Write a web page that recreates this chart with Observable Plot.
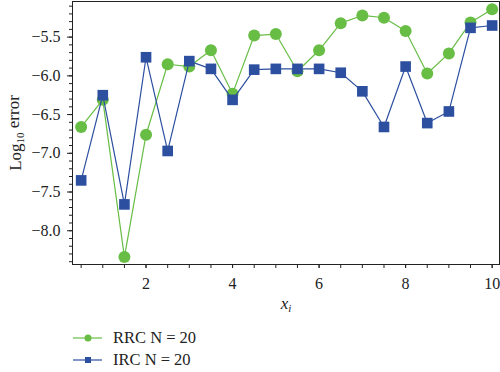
<!DOCTYPE html>
<html><head><meta charset="utf-8">
<script src="https://cdn.jsdelivr.net/npm/d3@7"></script>
<script src="https://cdn.jsdelivr.net/npm/@observablehq/plot@0.6"></script>
<style>
body{margin:0;background:#fff;font-family:"Liberation Serif",serif;color:#222;}
#legend{height:54px;padding-top:9px;box-sizing:border-box;}
.row{display:flex;align-items:center;height:22px;font-size:16.5px;}
.row svg{margin-left:73px;display:block;}
svg text{font-family:"Liberation Serif",serif;}
</style></head><body>
<div id="chart"></div>
<div id="legend"></div>
<script>
const xValues = [0.5,1,1.5,2,2.5,3,3.5,4,4.5,5,5.5,6,6.5,7,7.5,8,8.5,9,9.5,10];
const rrc = [-6.66,-6.31,-8.34,-6.76,-5.85,-5.88,-5.67,-6.23,-5.48,-5.46,-5.94,-5.67,-5.32,-5.22,-5.25,-5.42,-5.97,-5.71,-5.31,-5.14];
const irc = [-7.35,-6.25,-7.66,-5.76,-6.97,-5.81,-5.91,-6.31,-5.92,-5.91,-5.91,-5.91,-5.96,-6.20,-6.66,-5.88,-6.61,-6.46,-5.38,-5.35];
const seriesNames = ["RRC N = 20","IRC N = 20"];
const colors = ["#68bd45","#2d4fa0"];
const yTickValues = [-8,-7.5,-7,-6.5,-6,-5.5];
const yMinorTicks = [-8.4,-8.3,-8.2,-8.1,-8,-7.9,-7.8,-7.7,-7.6,-7.5,-7.4,-7.3,-7.2,-7.1,-7,-6.9,-6.8,-6.7,-6.6,-6.5,-6.4,-6.3,-6.2,-6.1,-6,-5.9,-5.8,-5.7,-5.6,-5.5,-5.4,-5.3,-5.2,-5.1];
const xTickValues = [2,4,6,8,10];
const xMinorTicks = xValues;

const rrcData = xValues.map((x,i)=>({x, y: rrc[i]}));
const ircData = xValues.map((x,i)=>({x, y: irc[i]}));
const serif = '"Liberation Serif", serif';

const chart = Plot.plot({
  width: 500, height: 318,
  marginLeft: 72, marginRight: 1, marginTop: 1, marginBottom: 54,
  style: {fontFamily: serif, fontSize: "16px", color: "#222", background: "white", overflow: "visible"},
  x: {domain: [0.3, 10.17]},
  y: {domain: [-8.436, -5.04]},
  marks: [
    Plot.frame({stroke: "#222"}),
    Plot.axisY(yMinorTicks, {tickSize: 3, tickFormat: () => "", label: null}),
    Plot.axisY(yTickValues, {tickSize: 5, tickPadding: 7, tickFormat: d3.format(".1f"), fontFamily: serif, fontSize: 16, fontVariant: "normal", label: "Log10 error", labelAnchor: "center", labelOffset: 64, labelArrow: "none"}),
    Plot.axisX(xMinorTicks, {tickSize: 4, tickFormat: () => "", label: null}),
    Plot.axisX(xTickValues, {tickSize: 4, tickPadding: 9, tickFormat: d => String(d), fontFamily: serif, fontSize: 16, fontVariant: "normal", label: "x_i", labelAnchor: "center", labelOffset: 44, labelArrow: "none"}),
    Plot.line(rrcData, {x: "x", y: "y", stroke: colors[0], strokeWidth: 1.2}),
    Plot.dot(rrcData, {x: "x", y: "y", r: 6, fill: colors[0], symbol: "circle"}),
    Plot.line(ircData, {x: "x", y: "y", stroke: colors[1], strokeWidth: 1.2}),
    Plot.dot(ircData, {x: "x", y: "y", r: 6, fill: colors[1], symbol: "square"})
  ]
});
document.getElementById("chart").appendChild(chart);

// subscripts in axis labels
d3.select(chart).selectAll("text").each(function(){
  const t = this.textContent;
  if (t === "Log10 error") {
    this.textContent = "";
    this.setAttribute("font-size", "17");
    const s = d3.select(this);
    s.append("tspan").text("Log");
    s.append("tspan").attr("dy", "0.3em").attr("font-size", "11").text("10");
    s.append("tspan").attr("dy", "-0.3em").text(" error");
  } else if (t === "x_i") {
    this.textContent = "";
    this.setAttribute("font-size", "17");
    const s = d3.select(this);
    s.append("tspan").attr("font-style", "italic").text("x");
    s.append("tspan").attr("dy", "0.35em").attr("font-size", "11").attr("font-style", "italic").text("i");
  }
});

// legend
const legend = d3.select("#legend");
seriesNames.forEach((name, i) => {
  const row = legend.append("div").attr("class", "row");
  const svg = row.append("svg").attr("width", 40).attr("height", 22);
  svg.append("line").attr("x1", 0).attr("x2", 29).attr("y1", 11).attr("y2", 11).attr("stroke", colors[i]).attr("stroke-width", 1.2);
  if (i === 0) svg.append("circle").attr("cx", 15).attr("cy", 11).attr("r", 3.5).attr("fill", colors[i]);
  else svg.append("rect").attr("x", 12).attr("y", 8).attr("width", 6).attr("height", 6).attr("fill", colors[i]);
  row.append("span").text(name);
});
</script>
</body></html>
